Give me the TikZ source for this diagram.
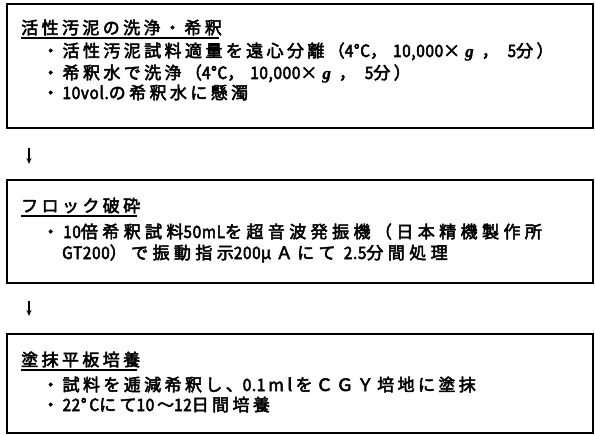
\documentclass[tikz,border=0pt]{standalone}
\usepackage{fontspec}
\setmainfont{Noto Sans CJK JP}
\newfontfamily\jp{Noto Sans CJK JP}[LetterSpace=20, FakeBold=3]
\newfontfamily\jpw{Noto Sans CJK JP}[LetterSpace=26, FakeBold=3]
\newfontfamily\jpl{Noto Sans CJK JP}[LetterSpace=4, FakeStretch=0.9, FakeBold=3]
\newfontfamily\gser{Liberation Serif}[FakeBold=1.5]
\newcommand{\lat}[1]{{\jpl #1}}
\newcommand{\gi}{{\gser\bfseries\itshape g}}
\newcommand{\bul}{・\hspace{3.4pt}}
\usetikzlibrary{arrows.meta}
\tikzset{
  stepbox/.style={draw=black, line width=1.6pt, rectangle, anchor=north west, inner sep=0pt},
  txt/.style={anchor=base west, inner sep=0pt, font=\jp\fontsize{17}{17}\selectfont},
  wtxt/.style={txt, font=\jpw\fontsize{17}{17}\selectfont},
  uline/.style={line width=1.6pt},
  flow/.style={line width=1.2pt, -{Stealth[length=6pt,width=5pt]}}
}
\begin{document}
\begin{tikzpicture}[x=1pt,y=-1pt]
\useasboundingbox[fill=white] (0,0) rectangle (595,436);
% boxes
\node[stepbox, minimum width=586pt, minimum height=124pt] (b1) at (6,3) {};
\node[stepbox, minimum width=586pt, minimum height=103pt] (b2) at (6,179) {};
\node[stepbox, minimum width=586pt, minimum height=99pt] (b3) at (6,333) {};
% box 1 text
\node[txt] (t1) at (21,34) {活性汚泥の洗浄・希釈};
\node[txt] (t1a) at (42,57) {・活性汚泥試料適量を遠心分離（\lat{4°C}，\hspace{6pt}\lat{10,000}×\hspace{5pt}\gi\hspace{8pt}，\hspace{9pt}\lat{5}分）};
\node[txt] (t1b) at (42,79) {・希釈水で洗浄（\lat{4°C}，\hspace{6pt}\lat{10,000}×\hspace{5pt}\gi\hspace{8pt}，\hspace{9pt}\lat{5}分）};
\node[txt] (t1c) at (42,99) {\bul\lat{10vol.}の希釈水に懸濁};
% box 2 text
\node[txt] (t2) at (21,212) {フロック破砕};
\node[wtxt] (t2a) at (42,238) {・\hspace{4pt}\lat{10}倍希釈試料\lat{50mL}を超音波発振機（日本精機製作所};
\node[wtxt] (t2b) at (62,259) {\lat{GT200}）で振動指示\lat{200}μＡにて \lat{2.5}分間処理};
% box 3 text
\node[txt] (t3) at (21,366) {塗抹平板培養};
\node[txt] (t3a) at (42,391) {・試料を逓減希釈し、\lat{0.1}\,\textit{ml}をＣＧＹ培地に塗抹};
\node[txt] (t3b) at (42,411) {\bul\lat{22°\,C}にて\lat{10}\,〜\lat{12}日間培養};
% underlines
\draw[uline] ([yshift=-4pt]t1.base west) -- ([yshift=-4pt,xshift=-3pt]t1.base east);
\draw[uline] ([yshift=-4pt]t2.base west) -- ([yshift=-4pt,xshift=-3pt]t2.base east);
\draw[uline] ([yshift=-4pt]t3.base west) -- ([yshift=-4pt,xshift=-3pt]t3.base east);
% arrows
\coordinate (a1s) at (29,148);
\coordinate (a1e) at (29,164);
\coordinate (a2s) at (29,301);
\coordinate (a2e) at (29,316);
\draw[flow] (a1s) -- (a1e);
\draw[flow] (a2s) -- (a2e);
\end{tikzpicture}
\end{document}
